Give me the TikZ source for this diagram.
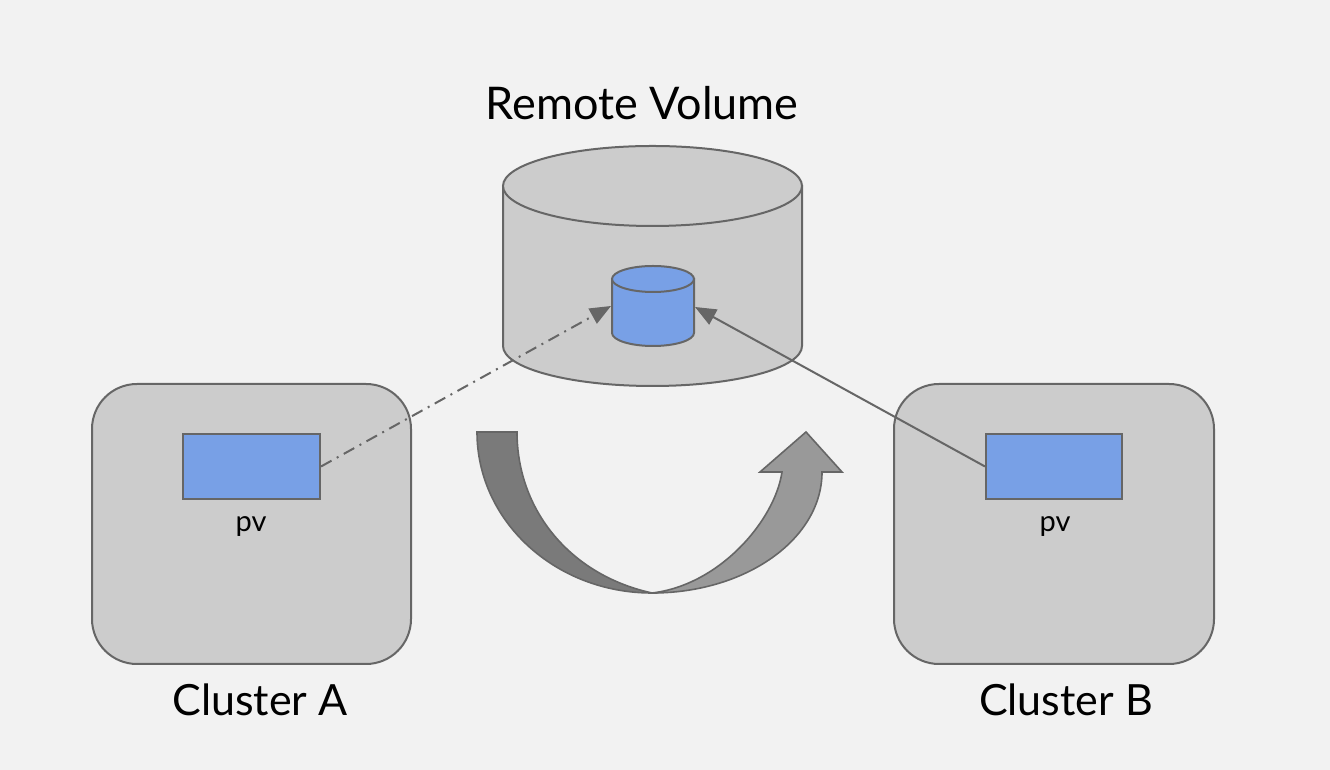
\documentclass[tikz,border=0pt]{standalone}
\usepackage{fontspec}
\setmainfont{Lato}
\usetikzlibrary{arrows.meta}
\definecolor{bg}{HTML}{F2F2F2}
\definecolor{boxgray}{HTML}{CCCCCC}
\definecolor{edge}{HTML}{666666}
\definecolor{pvblue}{RGB}{120,160,230}
\definecolor{darkarrow}{HTML}{7A7A7A}
\definecolor{lightarrow}{HTML}{999999}
\tikzset{
  outline/.style={draw=edge, line width=2pt},
  cluster/.style={outline, fill=boxgray, rounded corners=45pt},
  pvbox/.style={outline, fill=pvblue, minimum width=137pt, minimum height=65pt, inner sep=0pt},
  bigtext/.style={font=\fontsize{43}{50}\selectfont, text=black, inner sep=0pt},
  smalltext/.style={font=\fontsize{29}{34}\selectfont, text=black, inner sep=0pt},
  link/.style={draw=edge, line width=2pt, -{Triangle[length=21pt,width=17pt]}},
}
\begin{document}
\begin{tikzpicture}[x=1pt,y=1pt]
\fill[bg] (0,0) rectangle (1330,770);
\useasboundingbox (0,0) rectangle (1330,770);
% clusters
\draw[cluster] (92,106) rectangle (411,386);
\draw[cluster] (894,106) rectangle (1214,386);
\node[pvbox] (pvA) at (251.5,303.5) {};
\node[pvbox, minimum width=136pt] (pvB) at (1054,303.5) {};
\node[smalltext] (pvAl) at (251,243) {pv};
\node[smalltext] (pvBl) at (1055,243) {pv};
\node[bigtext] (clA) at (260,70) {Cluster A};
\node[bigtext] (clB) at (1066,70) {Cluster B};
\node[bigtext, font=\fontsize{45}{52}\selectfont] (rv) at (642,667) {Remote Volume};
% big cylinder
\filldraw[outline, fill=boxgray] (503,584) -- (503,424) arc[start angle=180, end angle=360, x radius=149.5, y radius=40] -- (802,584) -- cycle;
\draw[outline, fill=boxgray] (652.5,584) ellipse[x radius=149.5, y radius=40];
% small cylinder
\filldraw[outline, fill=pvblue] (612,491) -- (612,437) arc[start angle=180, end angle=360, x radius=41, y radius=13] -- (694,491) -- cycle;
\draw[outline, fill=pvblue] (653,491) ellipse[x radius=41, y radius=13];
\coordinate (volL) at (611,464);
\coordinate (volR) at (695,463);
% connectors
\draw[link, dash pattern=on 12pt off 6pt on 2pt off 6pt] (pvA.east) -- (volL);
\draw[link] (pvB.west) -- (volR);
% curved arrow
\filldraw[outline, line width=1.6pt, fill=lightarrow] (652,177) .. controls (746,177) and (822,231) .. (822,298) -- (842,298) -- (806,338) -- (760,298) -- (782,298) .. controls (775,250) and (720,185) .. (652,177) -- cycle;
\filldraw[outline, line width=1.6pt, fill=darkarrow] (477,338) -- (517,338) .. controls (517,260) and (570,195) .. (652,177) .. controls (555,177) and (477,249) .. (477,338) -- cycle;
\end{tikzpicture}
\end{document}
